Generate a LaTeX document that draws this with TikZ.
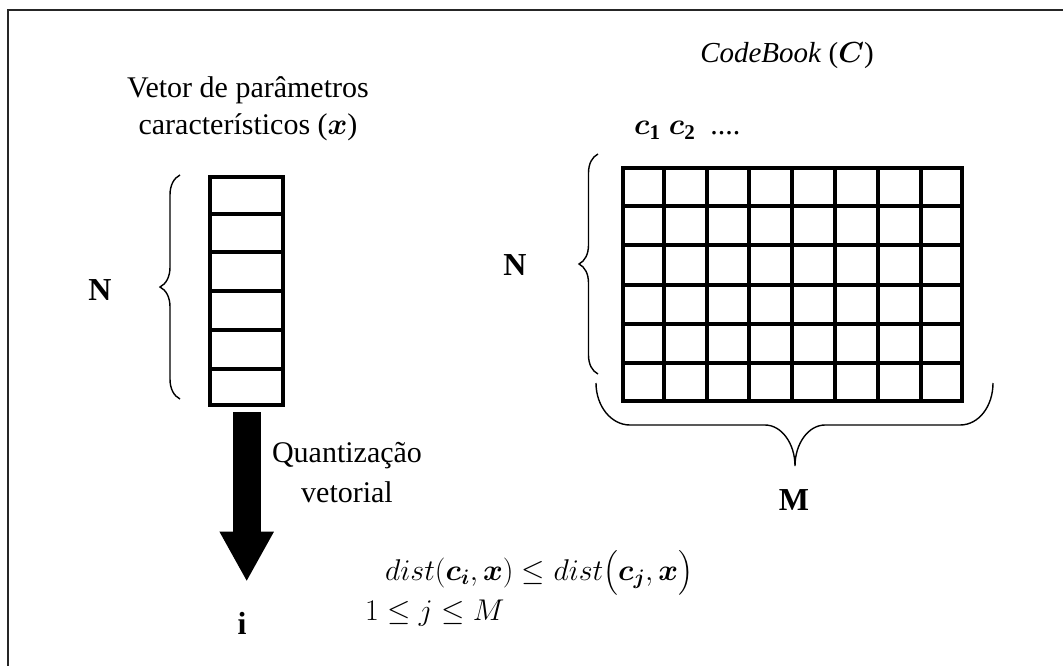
\RequirePackage{fix-cm}
\documentclass[tikz,border=0pt]{standalone}
\usepackage{fontspec}
\setmainfont{Liberation Serif}
\usepackage{amsmath}
\usepackage{bm}
\usetikzlibrary{calc,decorations.pathreplacing,arrows.meta}
\begin{document}
\begin{tikzpicture}[x=1pt,y=-1pt,
  txt/.style={font=\fontsize{30}{36.5}\selectfont, inner sep=0pt},
  big/.style={font=\fontsize{32}{36}\selectfont\bfseries, inner sep=0pt},
  cellbox/.style={draw, line width=4pt, inner sep=0pt},
  gridline/.style={line width=4pt},
  bracel/.style={decorate, decoration={brace, amplitude=20pt}, line width=1.4pt},
]
\useasboundingbox (0,0) rectangle (1063,666);
\draw[line width=2pt, black!85] (8,667) -- (8,10) -- (1064,10);

% feature vector
\node[cellbox, minimum width=72.7pt, minimum height=228.3pt] (vec) at (246.7,291.2) {};
\foreach \k in {1,...,5}
  \draw[gridline] ($(vec.north west)!\k/6!(vec.south west)$) -- ($(vec.north east)!\k/6!(vec.south east)$);

% codebook grid
\node[cellbox, minimum width=338.7pt, minimum height=232pt] (cb) at (792.3,284.5) {};
\foreach \k in {1,...,5}
  \draw[gridline] ($(cb.north west)!\k/6!(cb.south west)$) -- ($(cb.north east)!\k/6!(cb.south east)$);
\foreach \k in {1,...,7}
  \draw[gridline] ($(cb.north west)!\k/8!(cb.north east)$) -- ($(cb.south west)!\k/8!(cb.south east)$);

% braces
\draw[bracel] (180,399) -- (180,175);
\draw[bracel, decoration={brace, amplitude=19pt}] (598,374) -- (598,154);
\draw[line width=1.4pt] (596,383) .. controls (596,406) and (611,425) .. (630,425)
  -- (765,425) .. controls (781.5,425) and (795,443.5) .. (795,466)
  .. controls (795,443.5) and (808.5,425) .. (825,425)
  -- (960,425) .. controls (979,425) and (993,406) .. (993,383);

% texts
\node[txt, align=center] (title) at (248,109) {Vetor de parâmetros\\característicos ($\bm{x}$)};
\node[txt, font=\fontsize{29}{36}\selectfont, anchor=base] (cbt) at (787,63) {\textit{CodeBook} ($\bm{C}$)};
\node[txt, anchor=base west] (cols) at (634,135) {$\bm{c}_{\mathbf{1}}\;\bm{c}_{\mathbf{2}}$\ \ ....};
\node[big] (nl) at (100,290) {N};
\node[big] (nr) at (515,265) {N};
\node[big] (m) at (794,500) {M};
\node[big] (i) at (242,623) {i};
\node[font=\fontsize{30}{40}\selectfont, inner sep=0pt, align=center] (q) at (347,473) {Quantização\\vetorial};
\node[txt, anchor=base west] (f1) at (385,580) {$dist(\bm{c_i},\bm{x}) \le dist\bigl(\bm{c_j},\bm{x}\bigr)$};
\node[txt, anchor=base west] (f2) at (365,620) {$1 \le j \le M$};

% quantization arrow
\draw[line width=28pt, -{Triangle[width=54.5pt,length=49pt,line width=0pt]}]
  ($(vec.south)+(0,5)$) -- ($(vec.south |- i.north)+(0,-31)$);
\end{tikzpicture}
\end{document}
